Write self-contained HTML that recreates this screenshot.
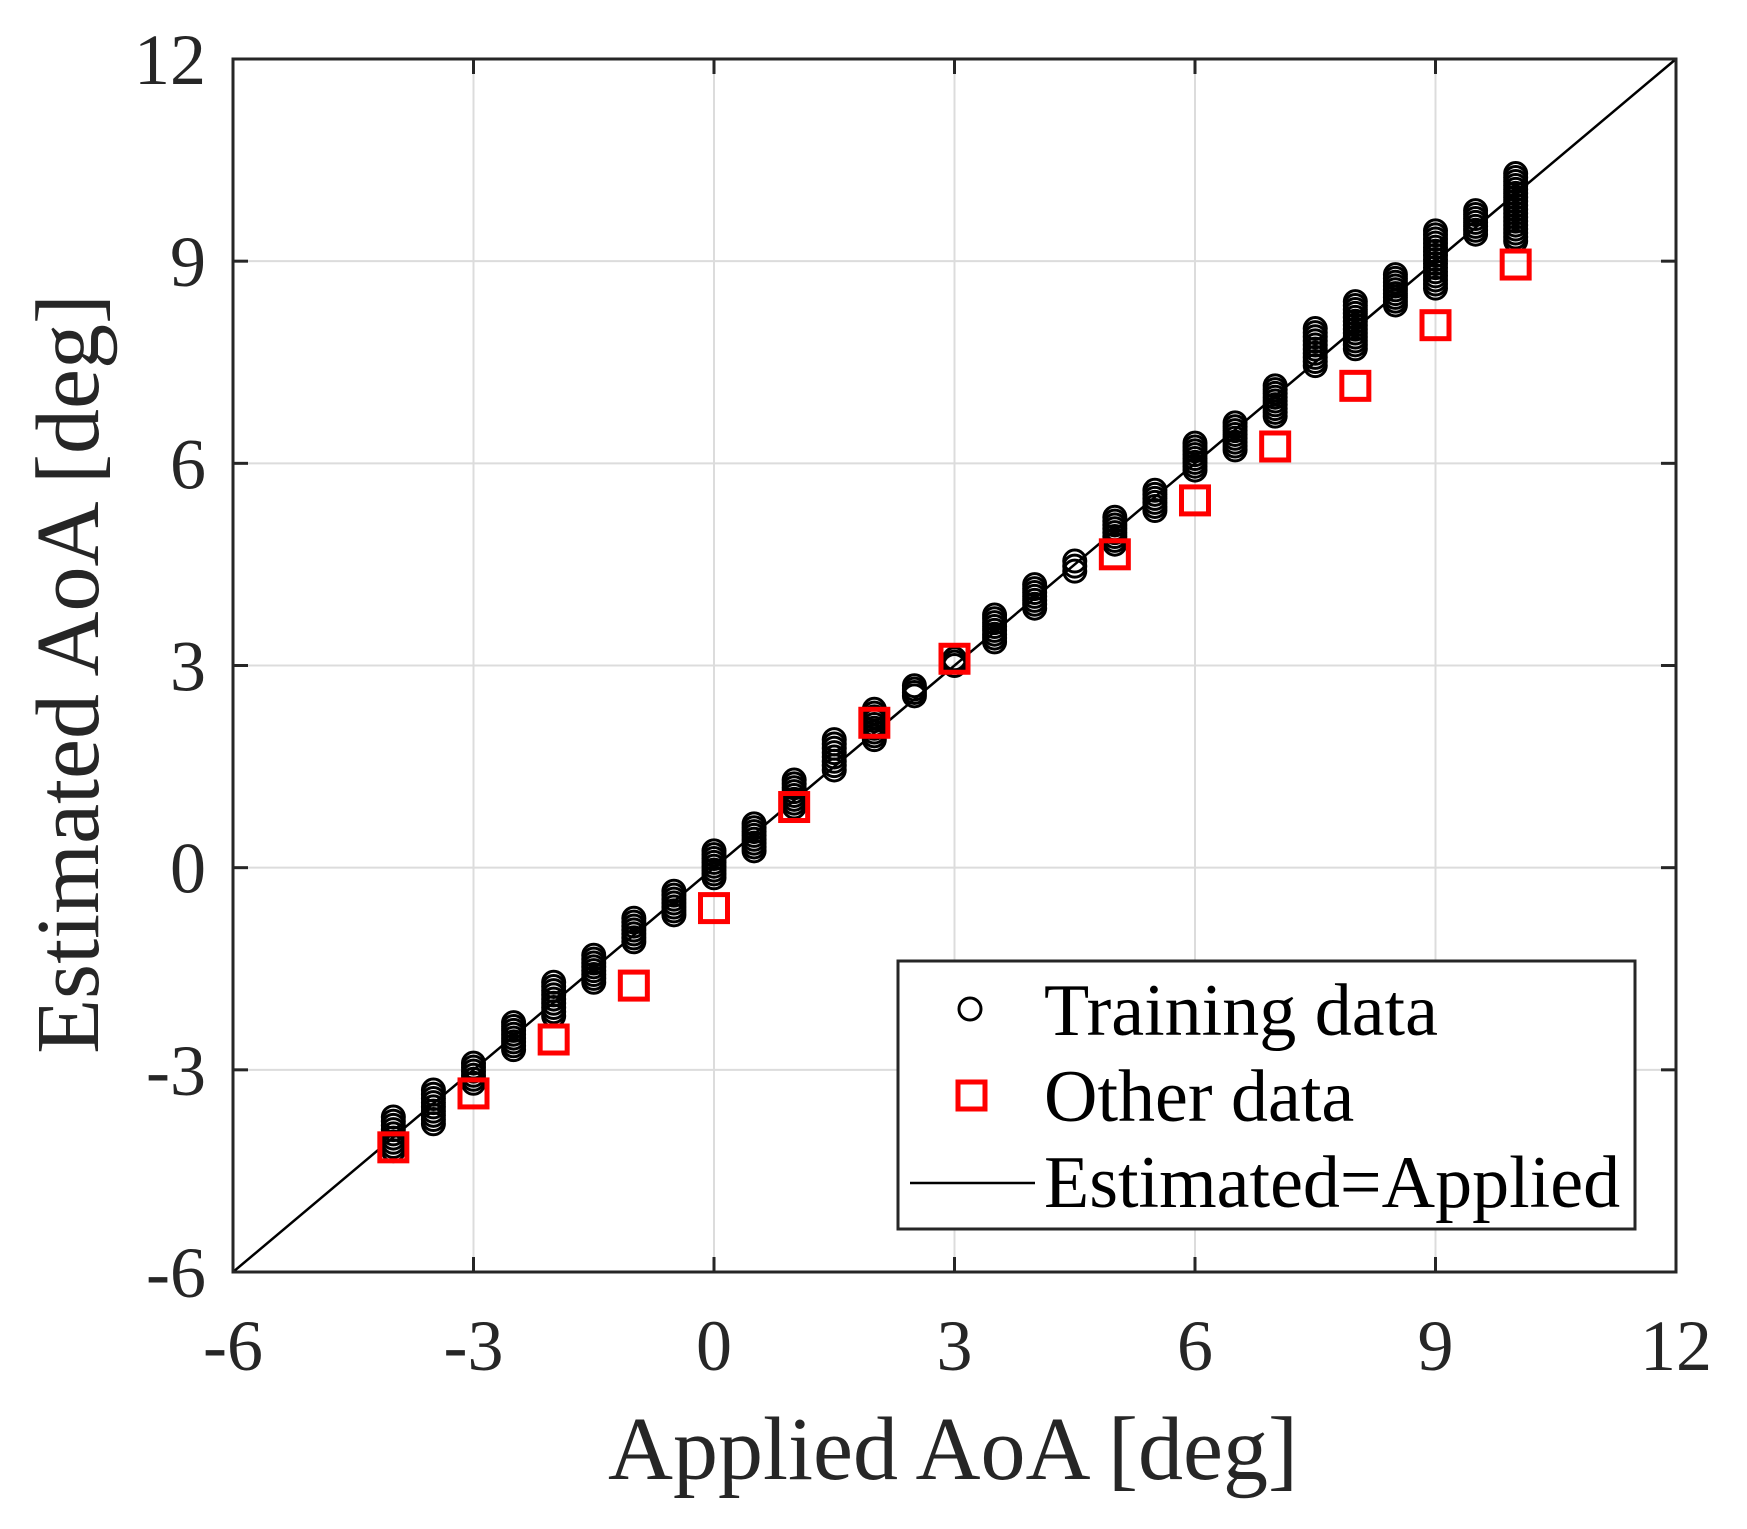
<!DOCTYPE html>
<html><head><meta charset="utf-8"><style>
html,body{margin:0;padding:0;background:#fff;}
svg{display:block;}
text{font-family:"Liberation Serif",serif;fill:#262626;}
</style></head><body>
<svg id="s" width="1747" height="1529" viewBox="0 0 1747 1529" xmlns="http://www.w3.org/2000/svg">
<rect width="1747" height="1529" fill="#fff"/>
<g id="grid"></g>
<g id="data"></g>
<rect x="233" y="59" width="1443" height="1213" fill="none" stroke="#262626" stroke-width="3"/>
<g id="ticks"></g>
<g id="labels" font-size="72"></g>
<text x="953" y="1479" font-size="90" text-anchor="middle">Applied AoA [deg]</text>
<text transform="translate(98,674) rotate(-90)" font-size="90" text-anchor="middle">Estimated AoA [deg]</text>
<rect x="898" y="961" width="737" height="268" fill="#fff" stroke="#262626" stroke-width="3"/>
<circle cx="970" cy="1009" r="11" fill="none" stroke="#000" stroke-width="3"/>
<text x="1044" y="1035" font-size="74" style="fill:#000">Training data</text>
<rect x="958" y="1082" width="27" height="27" fill="none" stroke="#f00" stroke-width="5"/>
<text x="1044" y="1121" font-size="74" style="fill:#000">Other data</text>
<line x1="910" y1="1183" x2="1035" y2="1183" stroke="#000" stroke-width="2.5"/>
<text x="1044" y="1207" font-size="74" style="fill:#000">Estimated=Applied</text>
</svg>
<script>
var NS="http://www.w3.org/2000/svg";
function X(v){return 233+(v+6)*1443/18;}
function Y(v){return 1272-(v+6)*1213/18;}
function el(p,t,a){var e=document.createElementNS(NS,t);for(var k in a)e.setAttribute(k,a[k]);document.getElementById(p).appendChild(e);return e;}
var vals=[-6,-3,0,3,6,9,12];
vals.forEach(function(v){
 if(v>-6&&v<12){
  el("grid","line",{x1:X(v),y1:59,x2:X(v),y2:1272,stroke:"#dcdcdc","stroke-width":2});
  el("grid","line",{x1:233,y1:Y(v),x2:1676,y2:Y(v),stroke:"#dcdcdc","stroke-width":2});
  el("ticks","line",{x1:X(v),y1:1272,x2:X(v),y2:1257,stroke:"#262626","stroke-width":3});
  el("ticks","line",{x1:X(v),y1:59,x2:X(v),y2:74,stroke:"#262626","stroke-width":3});
  el("ticks","line",{x1:233,y1:Y(v),x2:248,y2:Y(v),stroke:"#262626","stroke-width":3});
  el("ticks","line",{x1:1676,y1:Y(v),x2:1661,y2:Y(v),stroke:"#262626","stroke-width":3});
 }
 var t=el("labels","text",{x:X(v),y:1370,"text-anchor":"middle"});t.textContent=v;
 var t2=el("labels","text",{x:206,y:Y(v)+25,"text-anchor":"end"});t2.textContent=v;
});
el("data","line",{x1:X(-6),y1:Y(-6),x2:X(12),y2:Y(12),stroke:"#000","stroke-width":2.5});
var cl=[[-4,-4.2,-3.7],[-3.5,-3.8,-3.3],[-3,-3.2,-2.9],[-2.5,-2.7,-2.3],[-2,-2.2,-1.7],[-1.5,-1.7,-1.3],[-1,-1.1,-0.75],[-0.5,-0.7,-0.35],[0,-0.15,0.25],[0.5,0.25,0.65],[1,0.9,1.3],[1.5,1.45,1.9],[2,1.9,2.35],[2.5,2.55,2.7],[3,3.0,3.1],[3.5,3.35,3.75],[4,3.85,4.2],[4.5,4.4,4.55],[5,4.8,5.2],[5.5,5.3,5.6],[6,5.9,6.3],[6.5,6.2,6.6],[7,6.7,7.15],[7.5,7.45,8.0],[8,7.7,8.4],[8.5,8.35,8.8],[9,8.6,9.45],[9.5,9.4,9.75],[10,9.3,10.3]];
cl.forEach(function(c){
 var n=Math.max(2,Math.round((c[2]-c[1])/0.06));
 for(var i=0;i<=n;i++){var y=c[1]+(c[2]-c[1])*i/n;
  el("data","circle",{cx:X(c[0]),cy:Y(y),r:11,fill:"none",stroke:"#000","stroke-width":3});}
});
var sq=[[-4,-4.15],[-3,-3.35],[-2,-2.55],[-1,-1.75],[0,-0.6],[1,0.9],[2,2.15],[3,3.1],[5,4.65],[6,5.45],[7,6.25],[8,7.15],[9,8.05],[10,8.95]];
sq.forEach(function(p){
 el("data","rect",{x:X(p[0])-13.5,y:Y(p[1])-13.5,width:27,height:27,fill:"none",stroke:"#f00","stroke-width":5});
});
</script>
</body></html>
